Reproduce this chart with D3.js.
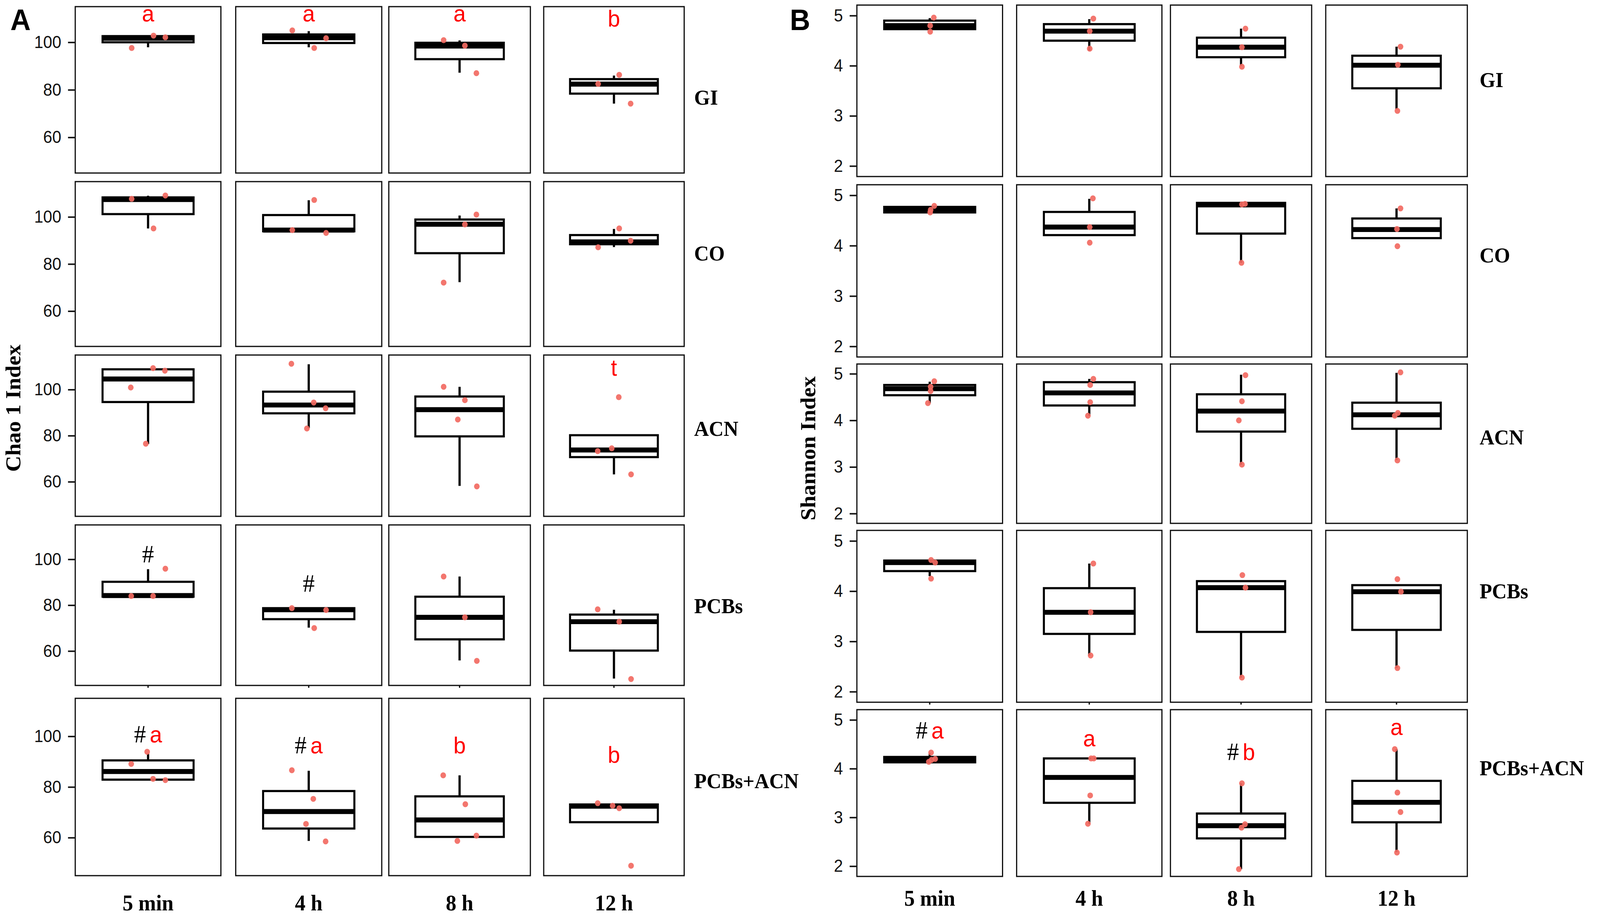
<!DOCTYPE html>
<html>
<head>
<meta charset="utf-8">
<script src="https://cdn.jsdelivr.net/npm/d3@7"></script>
<style>
  html, body { margin: 0; padding: 0; background: #fff; overflow: hidden; }
  svg { display: block; width: 100vw; height: 100vh; }
</style>
</head>
<body>
<svg id="chart" viewBox="0 0 4317 2353" preserveAspectRatio="none"></svg>
<script>
// ---- data ----
const times = ['5 min', '4 h', '8 h', '12 h'];
const groups = ['GI', 'CO', 'ACN', 'PCBs', 'PCBs+ACN'];

const chaoTicks = [60, 80, 100];
const shannonTicks = [2, 3, 4, 5];

// box stats per group/time: [lower whisker, q1, median, q3, upper whisker]
const chaoStats = [
  [[97.9, 100.0, 101.7, 102.6, 102.8], [97.9, 99.7, 101.9, 103.3, 104.7], [87.2, 92.9, 98.4, 99.8, 100.8], [74.2, 78.4, 82.4, 84.5, 86.0]],
  [[95.1, 101.2, 107.4, 108.3, 109.0], [93.5, 93.9, 94.4, 100.8, 107.1], [72.3, 84.6, 96.9, 98.9, 100.6], [87.2, 88.4, 89.4, 92.3, 94.9]],
  [[76.4, 94.6, 104.6, 108.8, 109.2], [83.3, 89.7, 93.3, 99.1, 111.0], [58.2, 79.7, 91.3, 97.0, 101.2], [63.2, 70.7, 73.8, 80.2, 80.2]],
  [[83.7, 83.7, 84.2, 90.2, 95.7], [70.2, 73.9, 78.0, 78.7, 78.7], [55.9, 65.1, 74.7, 83.7, 92.5], [48.0, 60.2, 72.8, 75.9, 78.0]],
  [[82.9, 82.9, 86.1, 90.5, 93.3], [58.7, 63.6, 70.3, 78.4, 86.4], [60.3, 60.3, 67.0, 76.3, 84.6], [66.1, 66.1, 72.4, 73.1, 73.1]]
];

// samples: [jitter (fraction of half box width), value]
const chaoPoints = [
  [[[-0.36, 97.6], [0.12, 102.8], [0.38, 102.1]],
   [[-0.36, 105.0], [0.12, 97.6], [0.38, 101.7]],
   [[-0.36, 100.9], [0.12, 98.6], [0.38, 87.0]],
   [[-0.36, 82.5], [0.12, 86.3], [0.38, 74.2]]],
  [[[-0.36, 107.7], [0.12, 95.1], [0.38, 109.1]],
   [[-0.36, 94.4], [0.12, 107.2], [0.38, 93.2]],
   [[-0.36, 72.1], [0.12, 96.8], [0.38, 101.0]],
   [[-0.36, 87.1], [0.12, 95.1], [0.38, 89.9]]],
  [[[-0.38, 100.9], [-0.05, 76.5], [0.11, 109.3], [0.37, 108.2]],
   [[-0.38, 111.2], [-0.04, 83.1], [0.11, 94.4], [0.37, 91.9]],
   [[-0.36, 101.2], [-0.04, 87.0], [0.12, 95.4], [0.39, 58.0]],
   [[-0.37, 73.3], [-0.05, 74.5], [0.11, 96.7], [0.39, 63.2]]],
  [[[-0.37, 84.0], [0.11, 84.0], [0.38, 95.9]],
   [[-0.37, 78.7], [0.12, 70.0], [0.38, 77.9]],
   [[-0.36, 92.5], [0.12, 74.7], [0.39, 55.7]],
   [[-0.37, 78.2], [0.12, 72.8], [0.39, 47.8]]],
  [[[-0.37, 89.1], [-0.02, 93.9], [0.11, 83.2], [0.38, 82.7]],
   [[-0.37, 86.6], [-0.06, 65.4], [0.10, 75.3], [0.37, 58.5]],
   [[-0.37, 84.6], [-0.05, 58.7], [0.13, 73.2], [0.38, 60.8]],
   [[-0.37, 73.6], [-0.03, 72.6], [0.12, 71.6], [0.39, 48.9]]]
];

const chaoMarks = [
  {row: 0, col: 0, hash: '', letter: 'a', at: 108.8},
  {row: 0, col: 1, hash: '', letter: 'a', at: 108.8},
  {row: 0, col: 2, hash: '', letter: 'a', at: 108.8},
  {row: 0, col: 3, hash: '', letter: 'b', at: 106.6},
  {row: 2, col: 3, hash: '', letter: 't', at: 106.0},
  {row: 3, col: 0, hash: '#', letter: '', at: 98.6},
  {row: 3, col: 1, hash: '#', letter: '', at: 85.8},
  {row: 4, col: 0, hash: '#', letter: 'a', at: 97.6},
  {row: 4, col: 1, hash: '#', letter: 'a', at: 93.3},
  {row: 4, col: 2, hash: '', letter: 'b', at: 93.3},
  {row: 4, col: 3, hash: '', letter: 'b', at: 89.6}
];

const shannonStats = [
  [[4.73, 4.73, 4.80, 4.90, 4.95], [4.30, 4.50, 4.69, 4.83, 4.93], [4.00, 4.17, 4.37, 4.56, 4.74], [3.13, 3.55, 4.01, 4.20, 4.38]],
  [[4.66, 4.66, 4.71, 4.77, 4.79], [4.21, 4.21, 4.37, 4.67, 4.93], [3.66, 4.24, 4.81, 4.85, 4.85], [4.15, 4.15, 4.32, 4.54, 4.74]],
  [[4.37, 4.54, 4.68, 4.76, 4.83], [4.10, 4.32, 4.59, 4.82, 4.89], [3.05, 3.76, 4.20, 4.56, 4.98], [3.15, 3.82, 4.12, 4.38, 5.02]],
  [[4.30, 4.40, 4.57, 4.61, 4.62], [2.72, 3.15, 3.58, 4.06, 4.55], [2.28, 3.19, 4.07, 4.20, 4.20], [2.47, 3.23, 3.99, 4.12, 4.12]],
  [[4.13, 4.13, 4.18, 4.24, 4.32], [2.87, 3.30, 3.82, 4.21, 4.21], [1.94, 2.57, 2.83, 3.08, 3.70], [2.29, 2.90, 3.31, 3.75, 4.40]]
];

const shannonPoints = [
  [[[0.01, 4.80], [0.01, 4.68], [0.09, 4.96]],
   [[0.09, 4.94], [0.01, 4.69], [0.01, 4.34]],
   [[0.10, 4.74], [0.02, 4.37], [0.02, 3.98]],
   [[0.09, 4.38], [0.03, 4.02], [0.02, 3.10]]],
  [[[0.01, 4.66], [0.02, 4.71], [0.10, 4.79]],
   [[0.08, 4.94], [0.01, 4.37], [0.01, 4.06]],
   [[0.02, 4.82], [0.09, 4.83], [0.01, 3.66]],
   [[0.09, 4.74], [0.01, 4.33], [0.02, 3.99]]],
  [[[0.10, 4.84], [0.02, 4.72], [0.02, 4.63], [-0.04, 4.37]],
   [[0.09, 4.89], [0.02, 4.76], [0.02, 4.39], [-0.03, 4.10]],
   [[0.10, 4.97], [0.02, 4.41], [-0.05, 4.00], [0.02, 3.05]],
   [[0.09, 5.03], [0.03, 4.16], [-0.04, 4.10], [0.02, 3.14]]],
  [[[0.03, 4.62], [0.12, 4.57], [0.03, 4.25]],
   [[0.09, 4.55], [0.03, 3.58], [0.03, 2.72]],
   [[0.03, 4.32], [0.10, 4.07], [0.02, 2.28]],
   [[0.02, 4.24], [0.10, 3.99], [0.02, 2.47]]],
  [[[0.03, 4.33], [-0.02, 4.14], [0.04, 4.18], [0.12, 4.20]],
   [[0.04, 4.21], [0.10, 4.21], [0.02, 3.45], [-0.03, 2.87]],
   [[0.02, 3.70], [0.01, 2.79], [0.09, 2.86], [-0.05, 1.94]],
   [[-0.04, 4.40], [0.02, 3.51], [0.09, 3.11], [0.01, 2.28]]]
];

const shannonMarks = [
  {row: 4, col: 0, hash: '#', letter: 'a', at: 4.62},
  {row: 4, col: 1, hash: '', letter: 'a', at: 4.46},
  {row: 4, col: 2, hash: '#', letter: 'b', at: 4.18},
  {row: 4, col: 3, hash: '', letter: 'a', at: 4.69}
];

// ---- layout ----
const panels = [
  {
    tag: 'A', title: 'Chao 1 Index', domain: [45, 115], ticks: chaoTicks,
    stats: chaoStats, points: chaoPoints, marks: chaoMarks,
    cols: [[203, 596], [636, 1030], [1049, 1431], [1467, 1846]],
    rows: [[17, 443], [465, 887], [909, 1322], [1344, 1755], [1788, 2242]],
    rowLabelX: 1873, rowLabelY: [250, 649, 1098, 1552, 2000],
    tagX: 28, titleX: 35, titleY: 1045, xLabelY: 2331
  },
  {
    tag: 'B', title: 'Shannon Index', domain: [1.79, 5.21], ticks: shannonTicks,
    stats: shannonStats, points: shannonPoints, marks: shannonMarks,
    cols: [[2312, 2705], [2743, 3135], [3158, 3539], [3577, 3959]],
    rows: [[13, 452], [473, 914], [932, 1340], [1358, 1798], [1817, 2244]],
    rowLabelX: 3992, rowLabelY: [205, 654, 1120, 1514, 1967],
    tagX: 2131, titleX: 2180, titleY: 1148, xLabelY: 2319
  }
];

const boxStroke = 5.5;
const pointColor = '#f26a62';
const serif = '"Liberation Serif", "Times New Roman", serif';
const sans = '"Liberation Sans", Arial, sans-serif';

const svg = d3.select('#chart');

panels.forEach(panel => {
    const g = svg.append('g').attr('class', `panel-${panel.tag}`);

    g.append('text')
        .attr('x', panel.tagX)
        .attr('y', 77)
        .style('font-family', sans)
        .style('font-weight', 'bold')
        .style('font-size', '76px')
        .text(panel.tag);

    g.append('text')
        .attr('transform', `translate(${panel.titleX},${panel.titleY}) rotate(-90)`)
        .attr('text-anchor', 'middle')
        .attr('dominant-baseline', 'central')
        .style('font-family', serif)
        .style('font-weight', 'bold')
        .style('font-size', '57px')
        .text(panel.title);

    groups.forEach((group, r) => {
        const [top, bottom] = panel.rows[r];
        const y = d3.scaleLinear().domain(panel.domain).range([bottom, top]);

        times.forEach((time, c) => {
            const [left, right] = panel.cols[c];
            // one category per facet; outer padding mimics ggplot's discrete expansion
            const x = d3.scaleBand().domain([time]).range([left, right]).paddingOuter(0.3);
            const cx = x(time) + x.bandwidth() / 2;
            const half = x.bandwidth() / 2;
            const [lo, q1, med, q3, hi] = panel.stats[r][c];
            const cell = g.append('g');

            cell.append('line')
                .attr('x1', cx).attr('x2', cx)
                .attr('y1', y(q3)).attr('y2', y(hi))
                .attr('stroke', '#000').attr('stroke-width', boxStroke + 0.5);
            cell.append('line')
                .attr('x1', cx).attr('x2', cx)
                .attr('y1', y(q1)).attr('y2', y(lo))
                .attr('stroke', '#000').attr('stroke-width', boxStroke + 0.5);
            cell.append('rect')
                .attr('x', x(time))
                .attr('y', y(q3))
                .attr('width', x.bandwidth())
                .attr('height', y(q1) - y(q3))
                .attr('fill', '#fff')
                .attr('stroke', '#000')
                .attr('stroke-width', boxStroke);
            cell.append('line')
                .attr('x1', x(time)).attr('x2', x(time) + x.bandwidth())
                .attr('y1', y(med)).attr('y2', y(med))
                .attr('stroke', '#000').attr('stroke-width', boxStroke * 2.3);

            cell.selectAll('circle')
                .data(panel.points[r][c])
              .join('circle')
                .attr('cx', d => cx + d[0] * half)
                .attr('cy', d => y(d[1]))
                .attr('r', 7.6)
                .attr('fill', pointColor)
                .attr('opacity', 0.92);

            // panel border
            cell.append('rect')
                .attr('x', left).attr('y', top)
                .attr('width', right - left).attr('height', bottom - top)
                .attr('fill', 'none')
                .attr('stroke', '#111')
                .attr('stroke-width', 3.2);

            if (r === 3) {
                cell.append('line')
                    .attr('x1', cx).attr('x2', cx)
                    .attr('y1', bottom).attr('y2', bottom + 6)
                    .attr('stroke', '#111').attr('stroke-width', 3.5);
            }

            if (c === 0) {
                const axis = g.append('g')
                    .attr('transform', `translate(${left - 1.5},0)`)
                    .call(d3.axisLeft(y)
                        .tickValues(panel.ticks)
                        .tickFormat(d3.format('d'))
                        .tickSize(18)
                        .tickPadding(18));
                axis.select('.domain').remove();
                axis.selectAll('.tick line').attr('stroke', '#111').attr('stroke-width', 3.8);
                axis.selectAll('.tick text')
                    .attr('fill', '#111')
                    .style('font-family', sans)
                    .style('font-size', '44px');
            }

            if (r === groups.length - 1) {
                g.append('text')
                    .attr('x', cx)
                    .attr('y', panel.xLabelY)
                    .attr('text-anchor', 'middle')
                    .style('font-family', serif)
                    .style('font-weight', 'bold')
                    .style('font-size', '57px')
                    .text(time);
            }
        });

        g.append('text')
            .attr('x', panel.rowLabelX)
            .attr('y', panel.rowLabelY[r])
            .attr('dominant-baseline', 'central')
            .style('font-family', serif)
            .style('font-weight', 'bold')
            .style('font-size', '55px')
            .text(group);
    });

    // significance marks, placed by baseline value
    panel.marks.forEach(m => {
        const [top, bottom] = panel.rows[m.row];
        const y = d3.scaleLinear().domain(panel.domain).range([bottom, top]);
        const [left, right] = panel.cols[m.col];
        const t = g.append('text')
            .attr('x', (left + right) / 2)
            .attr('y', y(m.at))
            .attr('text-anchor', 'middle');
        if (m.hash) {
            t.append('tspan')
                .style('font-family', serif)
                .style('font-size', '64px')
                .attr('fill', '#000')
                .text(m.hash);
        }
        if (m.hash && m.letter) {
            t.append('tspan').style('font-size', '40px').text('\u00a0');
        }
        if (m.letter) {
            t.append('tspan')
                .style('font-family', sans)
                .style('font-size', '60px')
                .attr('fill', '#ff0000')
                .text(m.letter);
        }
    });
});
</script>
</body>
</html>
